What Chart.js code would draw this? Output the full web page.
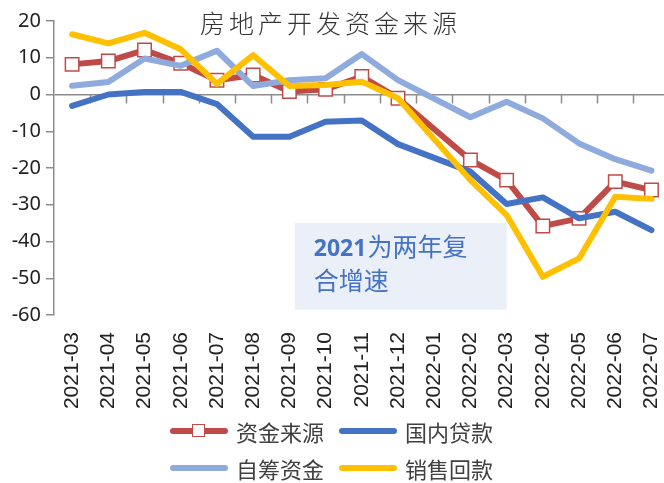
<!DOCTYPE html>
<html lang="zh">
<head>
<meta charset="UTF-8">
<title>房地产开发资金来源</title>
<script src="https://cdn.jsdelivr.net/npm/chart.js"></script>
<style>
    html, body { margin: 0; padding: 0; background: #fff; overflow: hidden; width: 664px; height: 483px; }
    #wrap { position: absolute; left: 0; top: 0; width: 694px; height: 483px; }
    #legend { position: absolute; left: 0; top: 0; width: 664px; height: 483px; pointer-events: none;
              font-family: "Noto Sans CJK SC", sans-serif; font-size: 22px; color: #404040; }
    .item { position: absolute; height: 30px; display: flex; align-items: center; }
    .sample { position: relative; width: 58px; height: 6px; border-radius: 3px; margin-right: 8px; }
    .box { position: absolute; left: 22px; top: -4px; width: 11px; height: 11px; background: #fff; border: 1.5px solid #BE4B48; }
</style>
</head>
<body>
<div id="wrap"><canvas id="myChart"></canvas></div>
<div id="legend"></div>
<script>
    // 数据（2022-01 缺失，与1-2月合并）
    const labels = ['2021-03', '2021-04', '2021-05', '2021-06', '2021-07', '2021-08', '2021-09', '2021-10', '2021-11', '2021-12',
                    '2022-01', '2022-02', '2022-03', '2022-04', '2022-05', '2022-06', '2022-07'];
    const seriesNames = ['资金来源', '国内贷款', '自筹资金', '销售回款'];
    const zijinLaiyuan = [8.2, 9.1, 12.1, 8.5, 3.9, 5.3, 0.8, 1.4, 4.9, -1.0, null, -17.8, -23.3, -35.8, -33.7, -23.7, -26.0];
    const guoneiDaikuan = [-3.1, 0.0, 0.7, 0.7, -2.6, -11.5, -11.5, -7.4, -7.1, -13.5, null, -21.0, -29.8, -28.0, -33.7, -31.9, -36.9];
    const zichouZijin = [2.4, 3.4, 9.8, 7.8, 11.9, 2.3, 3.9, 4.4, 11.0, 3.9, null, -6.2, -2.0, -6.5, -13.3, -17.6, -20.7];
    const xiaoshouHuikuan = [16.4, 13.9, 16.8, 12.3, 2.9, 10.7, 2.3, 2.6, 3.5, -1.0, null, -23.3, -32.8, -49.6, -44.6, -27.8, -28.4];
    const yTicks = [20, 10, 0, -10, -20, -30, -40, -50, -60];

    const colors = ['#BE4B48', '#4472C4', '#8FAADC', '#FFC000'];
    const titleText = '房地产开发资金来源';
    const noteLine1a = '2021';
    const noteLine1b = '为两年复';
    const noteLine2 = '合增速';

    function lineSet(i, data, order) {
        return {
            label: seriesNames[i],
            data: data,
            borderColor: colors[i],
            backgroundColor: colors[i],
            borderWidth: 6,
            borderJoinStyle: 'round',
            borderCapStyle: 'round',
            pointRadius: 0,
            pointHoverRadius: 0,
            tension: 0,
            spanGaps: true,
            order: order
        };
    }

    const datasets = [
        Object.assign(lineSet(0, zijinLaiyuan, 4), {
            pointStyle: 'rect', pointRadius: 9.5, pointBackgroundColor: '#fff',
            pointBorderColor: colors[0], pointBorderWidth: 1.5
        }),
        lineSet(1, guoneiDaikuan, 3),
        lineSet(2, zichouZijin, 2),
        lineSet(3, xiaoshouHuikuan, 1)
    ];

    // 标题、注释框、x轴0线刻度
    const extras = {
        id: 'extras',
        beforeDatasetsDraw(chart) {
            const ctx = chart.ctx;
            const x = chart.scales.x, y = chart.scales.y;
            // 注释框
            const bx1 = x.getPixelForValue(6.15), bx2 = x.getPixelForValue(12.0);
            const by1 = y.getPixelForValue(-35.0), by2 = y.getPixelForValue(-58.5);
            ctx.save();
            ctx.fillStyle = '#EAEFF8';
            ctx.fillRect(bx1, by1, bx2 - bx1, by2 - by1);
            ctx.fillStyle = '#4472C4';
            ctx.textBaseline = 'alphabetic';
            ctx.font = 'bold 23px "Noto Sans"';
            ctx.fillText(noteLine1a, bx1 + 19, by1 + 33);
            const w = ctx.measureText(noteLine1a).width;
            ctx.font = '25px "Noto Sans CJK SC"';
            ctx.fillText(noteLine1b, bx1 + 19 + w + 1, by1 + 33);
            ctx.fillText(noteLine2, bx1 + 19, by1 + 67);
            // x轴刻度（位于0线）
            const y0 = y.getPixelForValue(0);
            ctx.strokeStyle = '#8C8C8C';
            ctx.lineWidth = 1.5;
            ctx.beginPath();
            for (let i = 1; i < labels.length; i++) {
                const px = Math.round((x.getPixelForValue(i - 1) + x.getPixelForValue(i)) / 2) + 0.5;
                ctx.moveTo(px, y0);
                ctx.lineTo(px, y0 + 9);
            }
            ctx.stroke();
            ctx.restore();
        },
        afterDraw(chart) {
            const ctx = chart.ctx;
            ctx.save();
            ctx.fillStyle = '#333';
            ctx.font = '300 25px "Noto Sans CJK SC"';
            ctx.letterSpacing = '4px';
            ctx.textBaseline = 'alphabetic';
            ctx.fillText(titleText, 200, 33);
            ctx.restore();
        }
    };

    const ctx = document.getElementById('myChart').getContext('2d');
    const myChart = new Chart(ctx, {
        type: 'line',
        data: { labels: labels, datasets: datasets },
        plugins: [extras],
        options: {
            responsive: true,
            maintainAspectRatio: false,
            animation: false,
            layout: { padding: { top: 21, right: 3, bottom: 73, left: 0 } },
            plugins: {
                legend: { display: false },
                tooltip: { enabled: false },
                title: { display: false }
            },
            scales: {
                x: {
                    type: 'category',
                    offset: true,
                    grid: { display: false, drawTicks: false, offset: true },
                    border: { display: false },
                    ticks: {
                        autoSkip: false, minRotation: 90, maxRotation: 90, padding: 17,
                        color: '#222', font: { family: '"Liberation Sans"', size: 21 }
                    },
                    afterFit(scale) { scale.height = 95; }
                },
                y: {
                    min: -60, max: 20,
                    afterBuildTicks(scale) { scale.ticks = yTicks.map(v => ({ value: v })); },
                    grid: {
                        color: c => (c.tick && c.tick.value === 0) ? '#8C8C8C' : 'rgba(0,0,0,0)',
                        lineWidth: 1.5,
                        tickColor: '#8C8C8C',
                        tickLength: 8
                    },
                    border: { display: true, color: '#8C8C8C', width: 1.5 },
                    ticks: { padding: 5, color: '#222', font: { family: '"Noto Sans"', size: 20 } },
                    afterFit(scale) { scale.width = 54; }
                }
            }
        }
    });

    // 图例（两行两列）
    const legendPos = [[170, 416], [339, 416], [170, 453], [339, 453]];
    const legendOrder = [0, 1, 2, 3];
    const legendEl = document.getElementById('legend');
    legendOrder.forEach((si, k) => {
        const item = document.createElement('div');
        item.className = 'item';
        item.style.left = legendPos[k][0] + 'px';
        item.style.top = legendPos[k][1] + 'px';
        const sample = document.createElement('div');
        sample.className = 'sample';
        sample.style.background = colors[si];
        if (si === 0) {
            const b = document.createElement('div');
            b.className = 'box';
            sample.appendChild(b);
        }
        const txt = document.createElement('span');
        txt.textContent = seriesNames[si];
        item.appendChild(sample);
        item.appendChild(txt);
        legendEl.appendChild(item);
    });
</script>
</body>
</html>
